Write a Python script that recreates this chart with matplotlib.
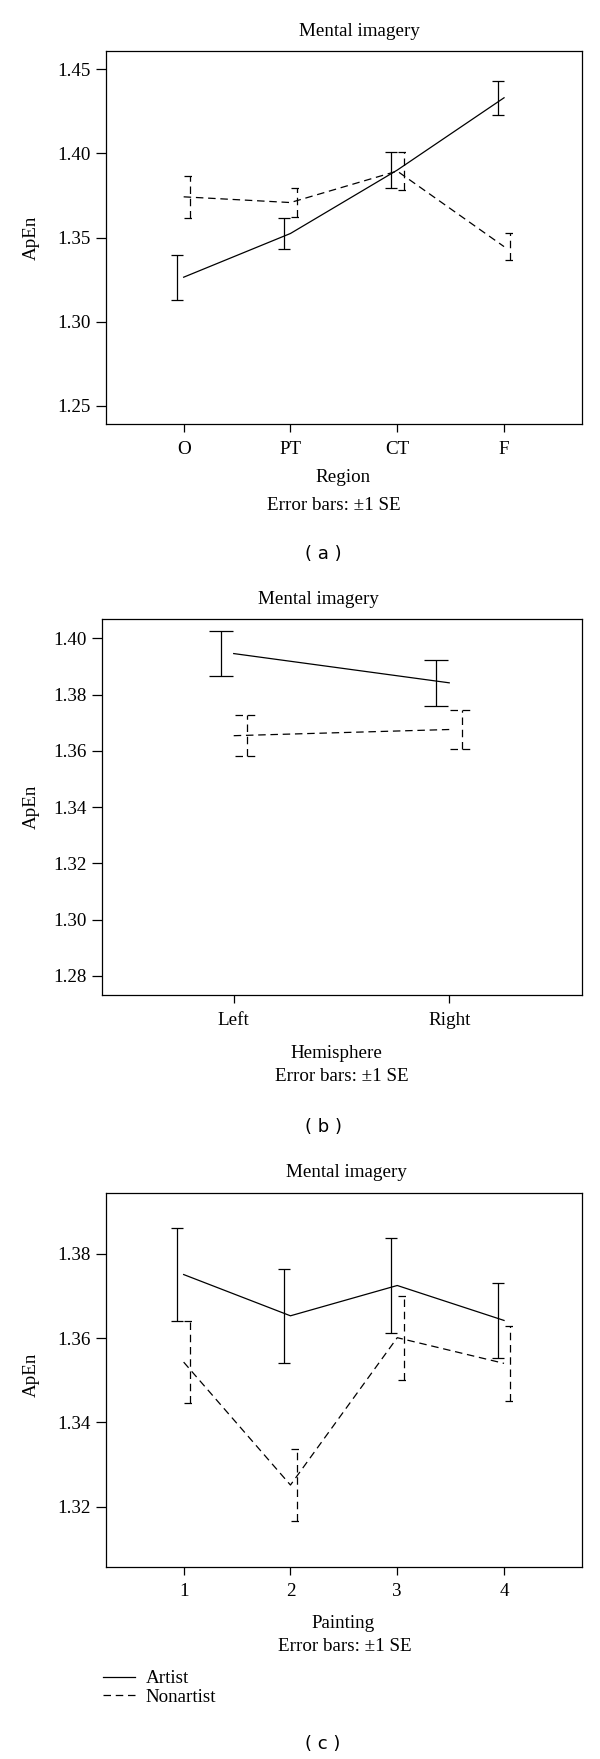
import matplotlib
matplotlib.use("Agg")
import matplotlib.pyplot as plt
import numpy as np
from matplotlib.lines import Line2D

# values (ApEn means and +/-1 SE)
regions = ["O", "PT", "CT", "F"]
a_artist = [1.3264, 1.3524, 1.3901, 1.4331]
a_artist_se = [0.0133, 0.0090, 0.0105, 0.0102]
a_nonartist = [1.3742, 1.3708, 1.3895, 1.3446]
a_nonartist_se = [0.0126, 0.0087, 0.0113, 0.0079]
a_yticks = [1.25, 1.30, 1.35, 1.40, 1.45]

hemispheres = ["Left", "Right"]
b_artist = [1.3946, 1.3842]
b_artist_se = [0.0080, 0.0081]
b_nonartist = [1.3654, 1.3676]
b_nonartist_se = [0.0072, 0.0070]
b_yticks = [1.28, 1.30, 1.32, 1.34, 1.36, 1.38, 1.40]

paintings = ["1", "2", "3", "4"]
c_artist = [1.3751, 1.3653, 1.3725, 1.3642]
c_artist_se = [0.0110, 0.0112, 0.0113, 0.0089]
c_nonartist = [1.3543, 1.3251, 1.3601, 1.3540]
c_nonartist_se = [0.0097, 0.0085, 0.0100, 0.0089]
c_yticks = [1.32, 1.34, 1.36, 1.38]

W, H = 600, 1759
FS = 13.7
LW = 0.9
DASH = (0, (6, 3.8))
OFFSET = 0.06
CAP = 0.055

plt.rcParams["font.family"] = ["Liberation Serif", "DejaVu Serif"]
plt.rcParams["font.size"] = FS


def px(x, y):
    return x / W, 1 - y / H


def draw_series(ax, means, se, shift, style):
    x = np.arange(1, len(means) + 1)
    means = np.asarray(means)
    se = np.asarray(se)
    ax.plot(x, means, color="black", lw=LW, linestyle=style)
    xe = x + shift
    ax.vlines(xe, means - se, means + se, colors="black", lw=LW, linestyles=style)
    ax.hlines(means - se, xe - CAP, xe + CAP, colors="black", lw=LW, linestyles=style)
    ax.hlines(means + se, xe - CAP, xe + CAP, colors="black", lw=LW, linestyles=style)


def draw_panel(rect, cats, art, art_se, non, non_se, yticks, ylim, xlim):
    ax = fig.add_axes(rect)
    draw_series(ax, art, art_se, -OFFSET, "-")
    draw_series(ax, non, non_se, OFFSET, DASH)
    ax.set_xlim(*xlim)
    ax.set_ylim(*ylim)
    ax.set_xticks(np.arange(1, len(cats) + 1))
    ax.set_xticklabels(cats)
    ax.set_yticks(yticks)
    ax.set_yticklabels([f"{v:.2f}" for v in yticks])
    ax.tick_params(axis="x", direction="out", length=6, width=LW, pad=6)
    ax.tick_params(axis="y", direction="out", length=7, width=LW, pad=4)
    for s in ax.spines.values():
        s.set_linewidth(LW)
    return ax


fig = plt.figure(figsize=(W / 100, H / 100), dpi=100)

# (a) region
draw_panel([105.7 / W, 1 - 424 / H, (582 - 105.7) / W, (424 - 50.7) / H],
           regions, a_artist, a_artist_se, a_nonartist, a_nonartist_se,
           a_yticks, (1.2391, 1.4611), (0.27, 4.73))
fig.text(*px(359, 31.7), "Mental imagery", ha="center", va="center")
fig.text(*px(31.7, 237.4), "ApEn", ha="center", va="center", rotation=90)
fig.text(*px(342.7, 477), "Region", ha="center", va="center")
fig.text(*px(333.7, 505.7), "Error bars: \u00b11 SE", ha="center", va="center")
fig.text(*px(323, 554), "( a )", ha="center", va="center", family="DejaVu Sans", fontsize=13)

# (b) hemisphere
draw_panel([101.7 / W, 1 - 995 / H, (582 - 101.7) / W, (995 - 618.7) / H],
           hemispheres, b_artist, b_artist_se, b_nonartist, b_nonartist_se,
           b_yticks, (1.2732, 1.4070), (0.3875, 2.616))
fig.text(*px(318, 600), "Mental imagery", ha="center", va="center")
fig.text(*px(31.0, 807), "ApEn", ha="center", va="center", rotation=90)
fig.text(*px(336.7, 1054), "Hemisphere", ha="center", va="center")
fig.text(*px(342, 1076.7), "Error bars: \u00b11 SE", ha="center", va="center")
fig.text(*px(323.3, 1126.7), "( b )", ha="center", va="center", family="DejaVu Sans", fontsize=13)

# (c) painting
draw_panel([105.7 / W, 1 - 1566.7 / H, (582 - 105.7) / W, (1566.7 - 1193.3) / H],
           paintings, c_artist, c_artist_se, c_nonartist, c_nonartist_se,
           c_yticks, (1.3057, 1.3944), (0.27, 4.73))
fig.text(*px(346.3, 1172.7), "Mental imagery", ha="center", va="center")
fig.text(*px(31.0, 1375), "ApEn", ha="center", va="center", rotation=90)
fig.text(*px(343, 1623.3), "Painting", ha="center", va="center")
fig.text(*px(345, 1646.7), "Error bars: \u00b11 SE", ha="center", va="center")
fig.text(*px(322.5, 1744), "( c )", ha="center", va="center", family="DejaVu Sans", fontsize=13)

handles = [Line2D([], [], color="black", lw=LW, linestyle="-"),
           Line2D([], [], color="black", lw=LW, linestyle=DASH)]
fig.legend(handles, ["Artist", "Nonartist"], loc="upper left",
           bbox_to_anchor=px(103, 1670), frameon=False, borderpad=0,
           handlelength=1.7, handletextpad=0.55, labelspacing=0.05,
           borderaxespad=0, fontsize=FS)

fig.savefig("out.png", dpi=100)
